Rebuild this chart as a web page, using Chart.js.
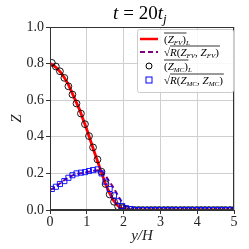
<!DOCTYPE html>
<html>
<head>
<meta charset="utf-8">
<script src="https://cdn.jsdelivr.net/npm/chart.js@4/dist/chart.umd.min.js"></script>
<style>
  html, body { margin: 0; padding: 0; background: #fff; }
  #wrap { width: 249px; height: 249px; }
</style>
</head>
<body>
<div id="wrap"><canvas id="myChart" width="249" height="249"></canvas></div>
<script>
// FV curves (lines)
let xFV = [0, 0.1, 0.2, 0.3, 0.4, 0.5, 0.6, 0.7, 0.8, 0.9, 1.0, 1.1, 1.2, 1.3, 1.4, 1.5, 1.6, 1.7, 1.8, 1.9, 2.0, 2.1, 2.2, 2.3, 5.0];
let meanFV = [0.80, 0.79, 0.772, 0.75, 0.72, 0.685, 0.64, 0.595, 0.55, 0.495, 0.44, 0.38, 0.32, 0.262, 0.203, 0.148, 0.10, 0.06, 0.032, 0.014, 0.005, 0.001, 0, 0, 0];
let rmsFV = [0.11, 0.12, 0.135, 0.15, 0.165, 0.178, 0.188, 0.196, 0.20, 0.203, 0.207, 0.211, 0.215, 0.217, 0.212, 0.19, 0.16, 0.13, 0.095, 0.06, 0.03, 0.01, 0.002, 0, 0];

// MC samples (markers)
let xMC = [0.05, 0.16, 0.27, 0.39, 0.50, 0.61, 0.72, 0.84, 0.95, 1.06, 1.17, 1.29, 1.40, 1.51, 1.62, 1.74, 1.85, 1.96, 2.07, 2.19,
           2.30, 2.41, 2.52, 2.64, 2.75, 2.86, 2.97, 3.09, 3.20, 3.31, 3.42, 3.54, 3.65, 3.76, 3.87, 3.99, 4.10, 4.21, 4.32, 4.44,
           4.55, 4.66, 4.77, 4.89, 5.00];
let meanMC = [0.804, 0.784, 0.758, 0.722, 0.676, 0.631, 0.582, 0.527, 0.469, 0.404, 0.342, 0.276, 0.209, 0.142, 0.085, 0.045, 0.02, 0.01, 0.003, 0,
              0, 0, 0, 0, 0, 0, 0, 0, 0, 0, 0, 0, 0, 0, 0, 0, 0, 0, 0, 0, 0, 0, 0, 0, 0];
let rmsMC = [0.115, 0.127, 0.142, 0.158, 0.176, 0.19, 0.20, 0.204, 0.207, 0.213, 0.218, 0.222, 0.20, 0.155, 0.115, 0.08, 0.048, 0.022, 0.01, 0.005,
             0, 0, 0, 0, 0, 0, 0, 0, 0, 0, 0, 0, 0, 0, 0, 0, 0, 0, 0, 0, 0, 0, 0, 0, 0];

let xTicks = [0, 1, 2, 3, 4, 5];
let yTicks = [0, 0.2, 0.4, 0.6, 0.8, 1.0];

function pts(xs, ys) {
    return xs.map((v, i) => ({x: v, y: ys[i]}));
}

const serif = "'Liberation Serif', 'DejaVu Serif', serif";

// title, box frame and legend drawn by hand (math text)
const deco = {
    id: 'deco',
    afterDatasetsDraw(chart) {
        const ctx = chart.ctx;
        const a = chart.chartArea;
        ctx.save();
        // frame
        ctx.strokeStyle = '#333';
        ctx.lineWidth = 1;
        ctx.strokeRect(a.left + 0.5, a.top + 0.5, a.right - a.left - 1, a.bottom - a.top - 1);

        // title
        ctx.fillStyle = '#000';
        ctx.textBaseline = 'alphabetic';
        ctx.textAlign = 'left';
        ctx.font = 'italic 19px ' + serif;
        let tx = 113;
        ctx.fillText('t', tx, 19);
        tx += ctx.measureText('t').width + 5;
        ctx.font = '19px ' + serif;
        ctx.fillText('= 20', tx, 19);
        tx += ctx.measureText('= 20').width;
        ctx.font = 'italic 19px ' + serif;
        ctx.fillText('t', tx, 19);
        tx += ctx.measureText('t').width;
        ctx.font = 'italic 13px ' + serif;
        ctx.fillText('j', tx, 23);

        // legend box
        const lx = 137, ly = 29, lw = 96, lh = 63;
        ctx.fillStyle = 'rgba(255,255,255,0.85)';
        ctx.strokeStyle = '#ccc';
        ctx.lineWidth = 1;
        ctx.beginPath();
        ctx.roundRect(lx + 0.5, ly + 0.5, lw, lh, 2);
        ctx.fill();
        ctx.stroke();

        const rows = [39, 52, 66, 80];
        // symbols
        ctx.lineWidth = 2.5;
        ctx.strokeStyle = 'red';
        ctx.beginPath(); ctx.moveTo(140, rows[0]); ctx.lineTo(158, rows[0]); ctx.stroke();
        ctx.lineWidth = 2;
        ctx.strokeStyle = 'purple';
        ctx.setLineDash([5, 3]);
        ctx.beginPath(); ctx.moveTo(140, rows[1]); ctx.lineTo(158, rows[1]); ctx.stroke();
        ctx.setLineDash([]);
        ctx.lineWidth = 1;
        ctx.strokeStyle = '#000';
        ctx.beginPath(); ctx.arc(149, rows[2], 3, 0, Math.PI * 2); ctx.stroke();
        ctx.strokeStyle = 'blue';
        ctx.strokeRect(146, rows[3] - 3, 6, 6);

        // labels
        ctx.fillStyle = '#000';
        ctx.strokeStyle = '#000';
        function meanLabel(x, y, sub) {
            ctx.font = '11px ' + serif;
            let s = x;
            ctx.fillText('(', s, y); s += ctx.measureText('(').width;
            ctx.font = 'italic 11px ' + serif;
            ctx.fillText('Z', s, y); s += ctx.measureText('Z').width;
            ctx.font = 'italic 7px ' + serif;
            ctx.fillText(sub, s, y + 2); s += ctx.measureText(sub).width;
            ctx.font = '11px ' + serif;
            ctx.fillText(')', s, y); s += ctx.measureText(')').width;
            ctx.lineWidth = 0.8;
            ctx.beginPath(); ctx.moveTo(x, y - 10); ctx.lineTo(s + 0.5, y - 10); ctx.stroke();
            ctx.font = 'italic 7px ' + serif;
            ctx.fillText('L', s, y + 2);
        }
        function rmsLabel(x, y, sub) {
            ctx.font = '11px ' + serif;
            let s = x;
            ctx.fillText('\u221A', s, y); s += ctx.measureText('\u221A').width;
            const start = s;
            ctx.font = 'italic 11px ' + serif;
            ctx.fillText('R', s, y); s += ctx.measureText('R').width;
            ctx.font = '11px ' + serif;
            ctx.fillText('(', s, y); s += ctx.measureText('(').width;
            ctx.font = 'italic 11px ' + serif;
            ctx.fillText('Z', s, y); s += ctx.measureText('Z').width;
            ctx.font = 'italic 7px ' + serif;
            ctx.fillText(sub, s, y + 2); s += ctx.measureText(sub).width;
            ctx.font = '11px ' + serif;
            ctx.fillText(', ', s, y); s += ctx.measureText(', ').width;
            ctx.font = 'italic 11px ' + serif;
            ctx.fillText('Z', s, y); s += ctx.measureText('Z').width;
            ctx.font = 'italic 7px ' + serif;
            ctx.fillText(sub, s, y + 2); s += ctx.measureText(sub).width;
            ctx.font = '11px ' + serif;
            ctx.fillText(')', s, y); s += ctx.measureText(')').width;
            ctx.lineWidth = 0.8;
            ctx.beginPath(); ctx.moveTo(start, y - 10); ctx.lineTo(s + 1, y - 10); ctx.stroke();
        }
        meanLabel(164, rows[0] + 4, 'FV');
        rmsLabel(164, rows[1] + 4, 'FV');
        meanLabel(164, rows[2] + 4, 'MC');
        rmsLabel(164, rows[3] + 4, 'MC');
        ctx.restore();
    }
};

let ctx = document.getElementById('myChart').getContext('2d');
let chart = new Chart(ctx, {
    type: 'scatter',
    data: {
        datasets: [
        {
            label: '(Z_FV)_L',
            type: 'line',
            data: pts(xFV, meanFV),
            borderColor: 'red',
            backgroundColor: 'transparent',
            borderWidth: 2.8,
            pointRadius: 0,
            tension: 0,
            clip: 0,
            order: 4
        },
        {
            label: 'sqrt R(Z_FV, Z_FV)',
            type: 'line',
            data: pts(xFV, rmsFV),
            borderColor: 'purple',
            backgroundColor: 'transparent',
            borderWidth: 2,
            borderDash: [5, 3],
            pointRadius: 0,
            tension: 0,
            clip: 0,
            order: 3
        },
        {
            label: '(Z_MC)_L',
            data: pts(xMC, meanMC),
            pointStyle: 'circle',
            pointRadius: 3.4,
            pointBorderWidth: 0.9,
            pointBorderColor: '#000',
            pointBackgroundColor: 'transparent',
            showLine: false,
            clip: 0,
            order: 2
        },
        {
            label: 'sqrt R(Z_MC, Z_MC)',
            data: pts(xMC, rmsMC),
            pointStyle: 'rect',
            pointRadius: 3.6,
            pointBorderWidth: 0.9,
            pointBorderColor: 'blue',
            pointBackgroundColor: 'transparent',
            showLine: false,
            clip: 0,
            order: 1
        }]
    },
    options: {
        responsive: false,
        animation: false,
        layout: { padding: { top: 27, right: 15, left: 0, bottom: 0 } },
        plugins: {
            legend: { display: false },
            tooltip: { enabled: false },
            title: { display: false }
        },
        scales: {
            x: {
                type: 'linear',
                min: 0, max: 5,
                afterBuildTicks: s => { s.ticks = xTicks.map(v => ({value: v})); },
                afterFit: s => { s.height = 39; },
                grid: { color: '#cfcfcf', lineWidth: 1, tickLength: 4, tickColor: '#333' },
                border: { color: '#333' },
                ticks: { color: '#222', font: { family: serif, size: 14 }, padding: 0, maxRotation: 0,
                         callback: v => String(v) },
                title: { display: true, text: 'y/H', color: '#222',
                         font: { family: serif, size: 15, style: 'italic' }, padding: { top: 0 } }
            },
            y: {
                min: 0, max: 1,
                afterBuildTicks: s => { s.ticks = yTicks.map(v => ({value: v})); },
                afterFit: s => { s.width = 50; },
                grid: { color: '#cfcfcf', lineWidth: 1, tickLength: 4, tickColor: '#333' },
                border: { color: '#333' },
                ticks: { color: '#222', font: { family: serif, size: 14 }, padding: 2,
                         callback: v => v.toFixed(1) },
                title: { display: true, text: 'Z', color: '#222',
                         font: { family: serif, size: 15, style: 'italic' }, padding: { top: 8, bottom: 0 } }
            }
        }
    },
    plugins: [deco]
});
</script>
</body>
</html>
